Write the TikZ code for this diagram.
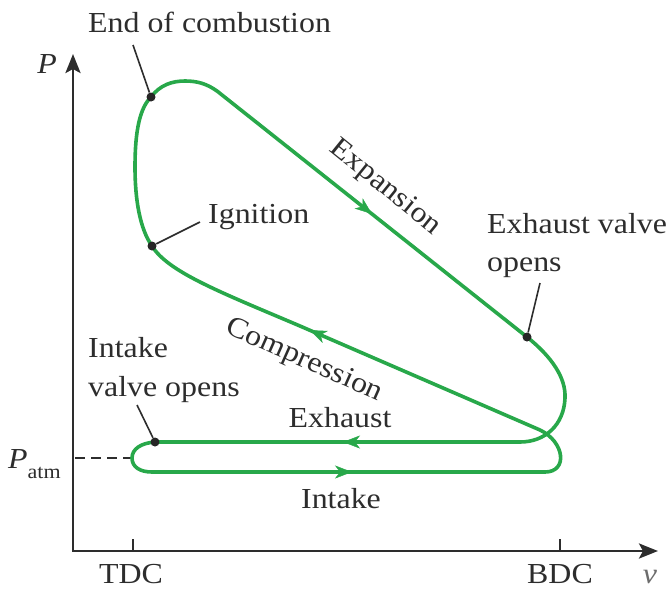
\documentclass[tikz,border=0pt]{standalone}
\usepackage{fontspec}
\setmainfont[FakeStretch=1.1]{Liberation Serif}
\usetikzlibrary{arrows.meta,decorations.markings}
\definecolor{cyc}{RGB}{40,168,74}
\definecolor{ax}{RGB}{45,45,45}
\begin{document}
\begin{tikzpicture}[x=1pt,y=-1pt,
  lbl/.style={font=\fontsize{29}{34}\selectfont, text=ax, inner sep=0pt},
  cyclepath/.style={draw=cyc, line width=3.6pt, line join=round},
  leader/.style={draw=ax, line width=1.6pt},
  dot/.style={circle, fill=black!85, inner sep=0pt, minimum size=9pt},
  axisline/.style={draw=ax, line width=2.8pt},
  midarrow/.style={decoration={markings, mark=at position #1 with {\arrow{Stealth[length=17pt,width=13pt,inset=5pt]}}}, postaction=decorate}]
\useasboundingbox (0,0) rectangle (672,590);

% axes
\coordinate (O) at (73,551);
\coordinate (Ytop) at (73,54);
\coordinate (Xend) at (658,551);
\draw[axisline, line join=miter, {Stealth[length=19pt,width=15pt,inset=4pt]}-{Stealth[length=19pt,width=15pt,inset=4pt]}] (Ytop) -- (O) -- (Xend);
\coordinate (tdcb) at (133,551); \coordinate (tdct) at (133,539);
\coordinate (bdcb) at (560,551); \coordinate (bdct) at (560,539);
\draw[axisline] (tdcb) -- (tdct);
\draw[axisline] (bdcb) -- (bdct);
\coordinate (pa1) at (75,458); \coordinate (pa2) at (132,458);
\draw[draw=ax, line width=2.8pt, dash pattern=on 10pt off 6pt] (pa1) -- (pa2);

% cycle
\draw[cyclepath] (155,442) .. controls (141,443) and (132,449) .. (132,458)
  .. controls (132,467) and (140,472) .. (152,472) -- (545,472)
  .. controls (568,472) and (565,442) .. (540,430) -- (300,326)
  .. controls (220,292) and (168,272) .. (152,246)
  .. controls (140,229) and (135,200) .. (135,167)
  .. controls (135,130) and (140,108) .. (151,97)
  .. controls (160,85) and (172,81) .. (185,81)
  .. controls (198,81) and (207,84) .. (217,91) -- (527,337)
  .. controls (552,357) and (566,378) .. (565,398)
  .. controls (564,425) and (545,442) .. (520,442) -- cycle;

% direction arrows
\path[color=cyc, midarrow=0.5] (217,91) -- (527,337);
\path[color=cyc, midarrow=0.96] (540,430) -- (300,326);
\path[color=cyc, midarrow=0.5] (520,442) -- (166,442);
\path[color=cyc, midarrow=0.5] (152,472) -- (552,472);

% dots
\node[dot] (dEnd) at (151,97) {};
\node[dot] (dIgn) at (152,246) {};
\node[dot] (dExh) at (527,337) {};
\node[dot] (dInt) at (155,442) {};

% leaders
\coordinate (lEnd) at (133,45);
\coordinate (lIgn) at (200,222);
\coordinate (lExh) at (540,283);
\coordinate (lInt) at (137,405);
\draw[leader] (lEnd) -- (dEnd);
\draw[leader] (lIgn) -- (dIgn);
\draw[leader] (lExh) -- (dExh);
\draw[leader] (lInt) -- (dInt);

% labels
\node[lbl, anchor=base west] (tEnd) at (88,32) {End of combustion};
\node[lbl, anchor=base west] (tIgn) at (208,223) {Ignition};
\node[lbl, anchor=base west] (tExh1) at (487,233) {Exhaust valve};
\node[lbl, anchor=base west] (tExh2) at (487,271) {opens};
\node[lbl, anchor=base west] (tInt1) at (88,357) {Intake};
\node[lbl, anchor=base west] (tInt2) at (88,396) {valve opens};
\node[lbl, anchor=base] (tExhaust) at (340,427) {Exhaust};
\node[lbl, anchor=base] (tIntake) at (341,508) {Intake};
\node[lbl, rotate=-39] (tExp) at (385,188) {Expansion};
\node[lbl, rotate=-24] (tComp) at (304,361) {Compression};
\node[lbl, anchor=base] (tTDC) at (131,583) {TDC};
\node[lbl, anchor=base] (tBDC) at (560,583) {BDC};
\node[lbl, anchor=base, text=ax!70] (tv) at (650,583) {\textit{v}};
\node[lbl, anchor=base] (tP) at (47,73) {\textit{P}};
\node[lbl, anchor=base west] (tPatm) at (8,468) {\textit{P}\raisebox{-10pt}{\fontsize{20}{24}\selectfont atm}};
\end{tikzpicture}
\end{document}
